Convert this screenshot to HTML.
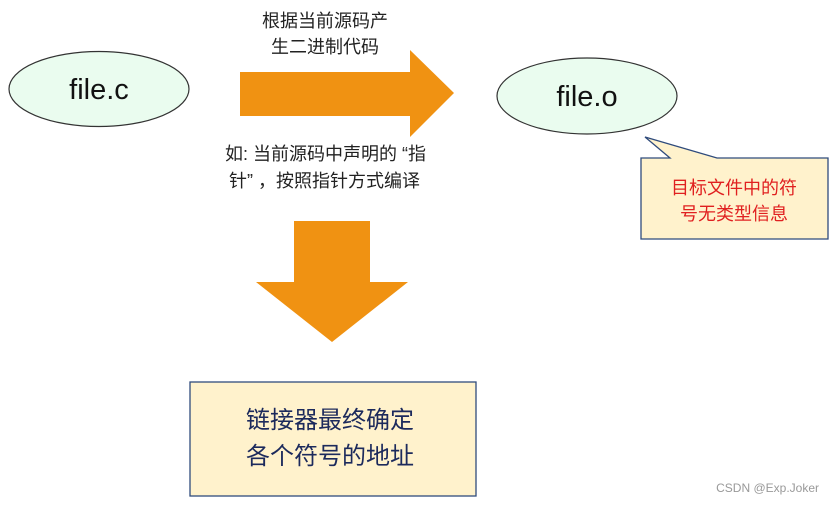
<!DOCTYPE html>
<html><head><meta charset="utf-8"><style>
body{margin:0;background:#fff;width:834px;height:502px;overflow:hidden}
svg text{font-family:"Liberation Sans","Noto Sans CJK SC",sans-serif}
</style></head><body>
<svg width="834" height="502" viewBox="0 0 834 502">
<ellipse cx="99" cy="89" rx="90" ry="37.5" fill="#eafcef" stroke="#333" stroke-width="1.2"/>
<text x="99" y="99" font-size="29" text-anchor="middle" fill="#111">file.c</text>
<ellipse cx="587" cy="96" rx="90" ry="38" fill="#eafcef" stroke="#333" stroke-width="1.2"/>
<text x="587" y="106" font-size="29" text-anchor="middle" fill="#111">file.o</text>
<polygon points="240,72 410,72 410,50 454,93 410,137 410,116 240,116" fill="#f09212"/>
<polygon points="294,221 370,221 370,282 408,282 332,342 256,282 294,282" fill="#f09212"/>
<text x="325" y="27" font-size="18" text-anchor="middle" fill="#222">根据当前源码产</text>
<text x="325" y="53" font-size="18" text-anchor="middle" fill="#222">生二进制代码</text>
<text x="225" y="160" font-size="18" fill="#222">如: 当前源码中声明的 “指</text>
<text x="229" y="187" font-size="18" fill="#222">针” ，按照指针方式编译</text>
<polygon points="641,158 670,158 645,137 717,158 828,158 828,239 641,239" fill="#fff2cc" stroke="#2f4b7c" stroke-width="1.3"/>
<text x="734" y="194" font-size="18" text-anchor="middle" fill="#e02020">目标文件中的符</text>
<text x="734" y="220" font-size="18" text-anchor="middle" fill="#e02020">号无类型信息</text>
<rect x="190" y="382" width="286" height="114" fill="#fff2cc" stroke="#2f4b7c" stroke-width="1.3"/>
<text x="330" y="428" font-size="24" text-anchor="middle" fill="#1c2a5c">链接器最终确定</text>
<text x="330" y="464" font-size="24" text-anchor="middle" fill="#1c2a5c">各个符号的地址</text>
<text x="819" y="492" font-size="12" text-anchor="end" fill="#999">CSDN @Exp.Joker</text>
</svg>
</body></html>
